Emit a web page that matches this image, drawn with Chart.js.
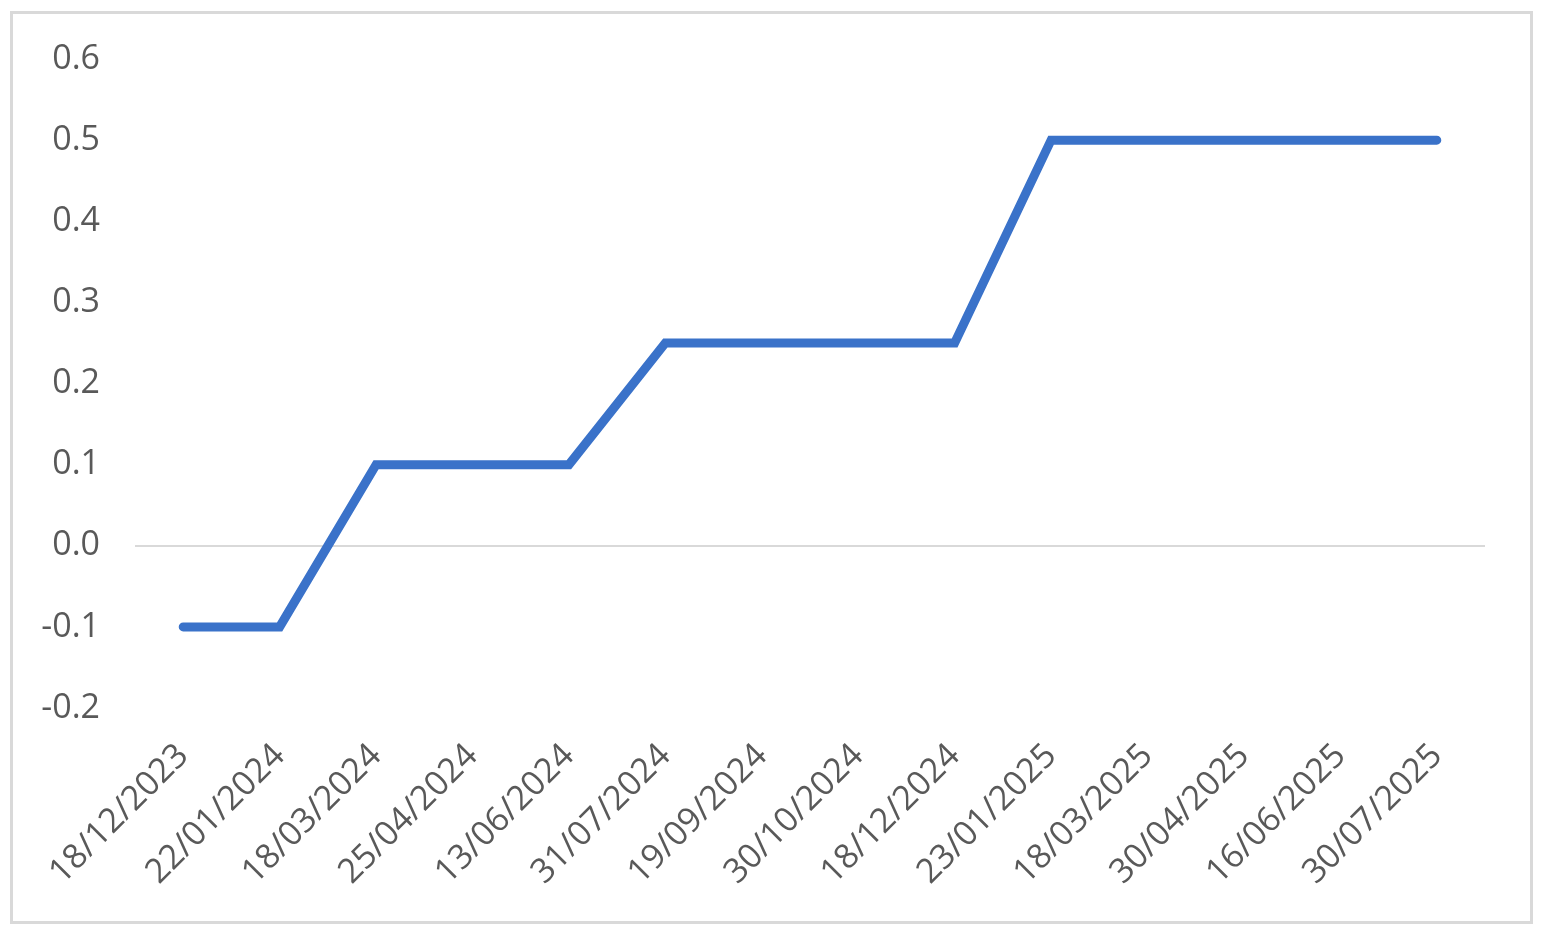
<!DOCTYPE html>
<html>
<head>
<meta charset="utf-8">
<script src="https://cdn.jsdelivr.net/npm/chart.js@4.4.1/dist/chart.umd.min.js"></script>
<style>
  html, body { margin: 0; padding: 0; background: #fff; }
  #wrap { position: absolute; left: 0; top: 0; width: 1542px; height: 932px; }
  #frame { position: absolute; left: 10px; top: 11px; width: 1517px; height: 907px; border: 3px solid #d9d9d9; pointer-events: none; }
</style>
</head>
<body>
<div id="wrap">
  <canvas id="lineChart"></canvas>
  <div id="frame"></div>
</div>
<script>
// datos del grafico
const fechas = ["18/12/2023", "22/01/2024", "18/03/2024", "25/04/2024", "13/06/2024", "31/07/2024", "19/09/2024",
    "30/10/2024", "18/12/2024", "23/01/2025", "18/03/2025", "30/04/2025", "16/06/2025", "30/07/2025"];
const tasas = [-0.1, -0.1, 0.1, 0.1, 0.1, 0.25, 0.25, 0.25, 0.25, 0.5, 0.5, 0.5, 0.5, 0.5];
const yMin = -0.2;
const yMax = 0.6;
const yPaso = 0.1;

const ctx = document.getElementById("lineChart").getContext("2d");
const myLineChart = new Chart(ctx, {
    type: "line",
    data: {
        labels: fechas,
        datasets: [
            {
                data: tasas,
                borderColor: "#3a72c9",
                borderWidth: 9,
                borderCapStyle: "round",
                borderJoinStyle: "miter",
                pointRadius: 0,
                tension: 0,
                fill: false
            }
        ]
    },
    options: {
        responsive: true,
        maintainAspectRatio: false,
        animation: false,
        layout: {
            padding: { top: 59, right: 57, bottom: 0, left: 0 }
        },
        plugins: {
            legend: { display: false },
            tooltip: { enabled: false }
        },
        scales: {
            x: {
                offset: true,
                grid: { display: false },
                border: { display: false },
                ticks: {
                    color: "#595959",
                    font: { family: "Open Sans", size: 34 },
                    minRotation: 45,
                    maxRotation: 45,
                    autoSkip: false,
                    padding: 20
                },
                afterFit: (scale) => { scale.height = 224; }
            },
            y: {
                min: yMin,
                max: yMax,
                border: { display: false },
                grid: {
                    drawTicks: false,
                    lineWidth: 2,
                    color: (c) => (Math.abs(c.tick.value) < 1e-9 ? "#d9d9d9" : "rgba(0,0,0,0)") // solo la linea del cero
                },
                ticks: {
                    stepSize: yPaso,
                    color: "#595959",
                    font: { family: "Open Sans", size: 34 },
                    padding: 35,
                    callback: (v) => v.toFixed(1)
                },
                afterFit: (scale) => { scale.width = 135; }
            }
        }
    }
});
</script>
</body>
</html>
